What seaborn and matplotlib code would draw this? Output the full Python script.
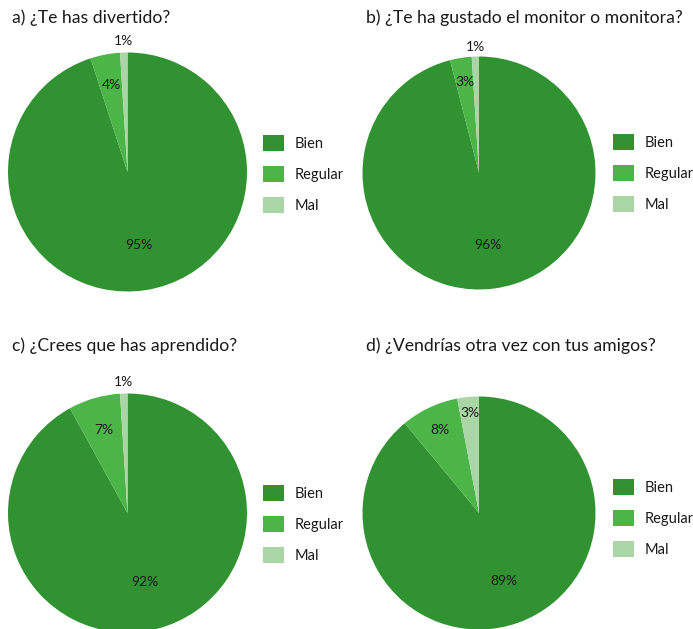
import matplotlib
matplotlib.use("Agg")
import matplotlib.pyplot as plt
import seaborn as sns
import numpy as np

# Survey answers (percent) for each question
categories = ["Bien", "Regular", "Mal"]
titles = [
    "a) ¿Te has divertido?",
    "b) ¿Te ha gustado el monitor o monitora?",
    "c) ¿Crees que has aprendido?",
    "d) ¿Vendrías otra vez con tus amigos?",
]
divertido = [95, 4, 1]
monitor = [96, 3, 1]
aprendido = [92, 7, 1]
amigos = [89, 8, 3]

sns.set_theme(style="white")
plt.rcParams["font.family"] = ["Lato", "DejaVu Sans"]

colors = ["#309230", "#4cb548", "#aad5a4"]
text_color = "#1a1a1a"

W, H = 693, 629
fig = plt.figure(figsize=(W / 100, H / 100), dpi=100)

# Layout in pixels: pie centre / radius, title origin, legend origin,
# and the radial distance of each slice label.
panels = [
    dict(values=divertido, title=titles[0], cx=127.5, cy=172, r=119.5,
         tx=12, ty=18, lx=263, ly=135, dist=[0.62, 0.74, 1.10]),
    dict(values=monitor, title=titles[1], cx=479, cy=173, r=116.5,
         tx=366, ty=18, lx=613, ly=134, dist=[0.62, 0.79, 1.08]),
    dict(values=aprendido, title=titles[2], cx=127.5, cy=513, r=119.5,
         tx=12, ty=346, lx=263, ly=485, dist=[0.60, 0.72, 1.10]),
    dict(values=amigos, title=titles[3], cx=479, cy=513, r=116.5,
         tx=366, ty=346, lx=613, ly=479, dist=[0.62, 0.79, 0.86]),
]

for p in panels:
    r = p["r"]
    ax = fig.add_axes([(p["cx"] - r) / W, 1 - (p["cy"] + r) / H,
                       2 * r / W, 2 * r / H])
    wedges, _ = ax.pie(p["values"], colors=colors, startangle=90,
                       counterclock=False, radius=1.0,
                       wedgeprops=dict(linewidth=0))
    ax.set_xlim(-1, 1)
    ax.set_ylim(-1, 1)
    ax.set_aspect("equal")
    ax.axis("off")

    for w, v, d in zip(wedges, p["values"], p["dist"]):
        ang = np.deg2rad((w.theta1 + w.theta2) / 2)
        ax.text(d * np.cos(ang), d * np.sin(ang), f"{v}%",
                ha="center", va="center", fontsize=10,
                color=text_color, clip_on=False)

    fig.text(p["tx"] / W, 1 - p["ty"] / H, p["title"], ha="left",
             va="center", fontsize=12.7, color=text_color)

    fig.legend(wedges, categories, loc="upper left",
               bbox_to_anchor=(p["lx"] / W, 1 - p["ly"] / H),
               frameon=False, borderpad=0, borderaxespad=0,
               fontsize=10.5, handlelength=1.45, handleheight=1.35,
               handletextpad=0.7, labelspacing=1.0,
               labelcolor=text_color)

fig.savefig("out.png", dpi=100, facecolor="white")
